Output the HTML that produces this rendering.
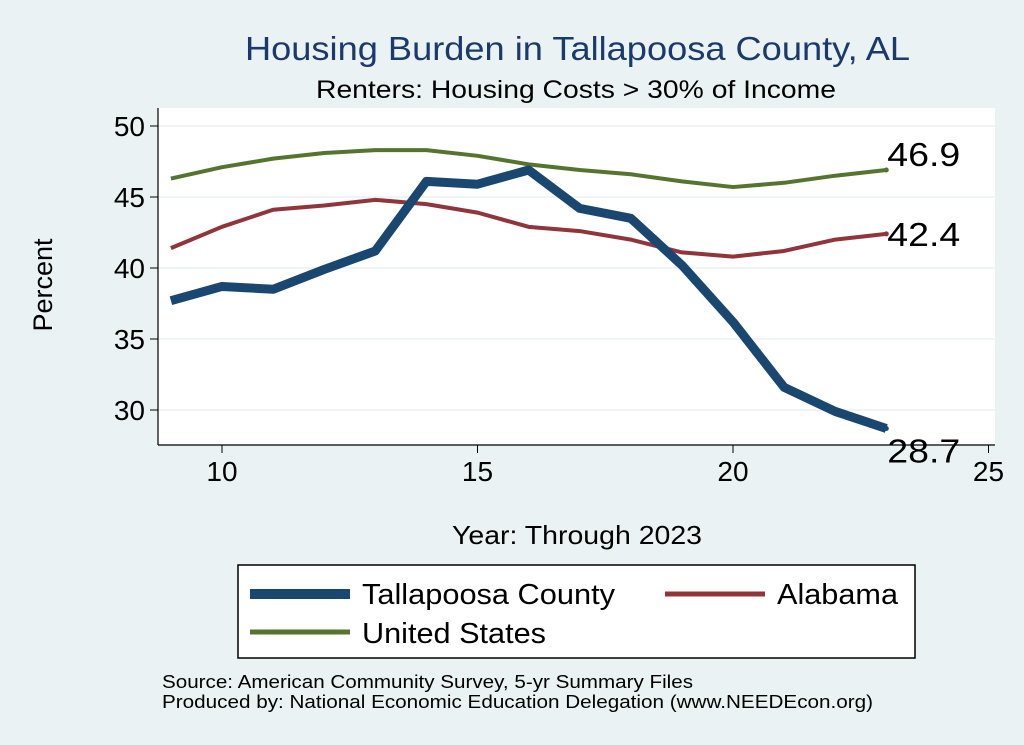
<!DOCTYPE html>
<html><head><meta charset="utf-8"><style>
body{margin:0;background:#eaf2f3;}
svg{display:block;font-family:"Liberation Sans",sans-serif;}
</style></head><body>
<svg id="chart" width="1024" height="745">
<rect width="1024" height="745" fill="#eaf2f3"/>
<rect x="158" y="108" width="837" height="337" fill="#fff"/>
<text x="245" y="60" font-size="33" fill="#1a3a6b" textLength="665" lengthAdjust="spacingAndGlyphs">Housing Burden in Tallapoosa County, AL</text>
<text x="316" y="98" font-size="25" textLength="520" lengthAdjust="spacingAndGlyphs">Renters: Housing Costs &gt; 30% of Income</text>
<g id="grid"></g><g id="axes"></g><g id="series"></g>
<text x="52" y="285" font-size="27" text-anchor="middle" transform="rotate(-90 52 285)">Percent</text>
<text x="452" y="544" font-size="26" textLength="250" lengthAdjust="spacingAndGlyphs">Year: Through 2023</text>
<g>
<rect x="238" y="565" width="677" height="93" fill="#fff" stroke="#000" stroke-width="1.5"/>
<line x1="250" y1="594" x2="350" y2="594" stroke="#1a476f" stroke-width="10"/>
<text x="362" y="604" font-size="29" textLength="253" lengthAdjust="spacingAndGlyphs">Tallapoosa County</text>
<line x1="665" y1="594" x2="765" y2="594" stroke="#90353b" stroke-width="5"/>
<text x="777" y="604" font-size="29" textLength="121" lengthAdjust="spacingAndGlyphs">Alabama</text>
<line x1="250" y1="632" x2="350" y2="632" stroke="#55752f" stroke-width="5"/>
<text x="362" y="643" font-size="29" textLength="184" lengthAdjust="spacingAndGlyphs">United States</text>
</g>
<text x="162" y="688" font-size="18" textLength="531" lengthAdjust="spacingAndGlyphs">Source: American Community Survey, 5-yr Summary Files</text>
<text x="162" y="708" font-size="18" textLength="711" lengthAdjust="spacingAndGlyphs">Produced by: National Economic Education Delegation (www.NEEDEcon.org)</text>
</svg>
<script>
const years=[9,10,11,12,13,14,15,16,17,18,19,20,21,22,23];
const tallapoosa=[37.7,38.7,38.5,39.9,41.2,46.1,45.9,46.9,44.2,43.5,40.2,36.2,31.6,29.9,28.7];
const alabama=[41.4,42.9,44.1,44.4,44.8,44.5,43.9,42.9,42.6,42.0,41.1,40.8,41.2,42.0,42.4];
const unitedStates=[46.3,47.1,47.7,48.1,48.3,48.3,47.9,47.3,46.9,46.6,46.1,45.7,46.0,46.5,46.9];
const xTicks=[10,15,20,25];
const yTicks=[30,35,40,45,50];
const NS="http://www.w3.org/2000/svg";
function X(v){return 222+(v-10)*51.1;}
function Y(v){return 126+(50-v)*14.2;}
function mk(tag,attrs,parent){const e=document.createElementNS(NS,tag);for(const k in attrs)e.setAttribute(k,attrs[k]);parent.appendChild(e);return e;}
const grid=document.getElementById('grid'),axes=document.getElementById('axes'),ser=document.getElementById('series');
mk('line',{x1:158,y1:108,x2:158,y2:445,stroke:'#000','stroke-width':1.2},axes);
mk('line',{x1:158,y1:445,x2:995,y2:445,stroke:'#000','stroke-width':1.2},axes);
yTicks.forEach(t=>{
 const g=mk('line',{x1:158,y1:Y(t),x2:995,y2:Y(t),stroke:'#eaf2f3','stroke-width':1.5},grid);
 
 
 mk('line',{x1:150,y1:Y(t),x2:158,y2:Y(t),stroke:'#000'},axes);
 const tx=mk('text',{x:145,y:Y(t)+10,'font-size':28,'text-anchor':'end'},axes);
 tx.textContent=t;
 
 
});
xTicks.forEach(t=>{
 mk('line',{x1:X(t),y1:445,x2:X(t),y2:453,stroke:'#000'},axes);
 const tx=mk('text',{x:X(t),y:481,'font-size':28,'text-anchor':'middle'},axes);
 tx.textContent=t;
 
 
});
function line(vals,color,w,name,labelDy){
 const p=mk('polyline',{points:years.map((y,i)=>X(y)+','+Y(vals[i])).join(' '),fill:'none',stroke:color,'stroke-width':w,'stroke-linejoin':'round'},ser);
 
 
 const n=vals.length-1;
 mk('circle',{cx:X(years[n]),cy:Y(vals[n]),r:2.5,fill:color},ser);
 const t=mk('text',{x:X(years[n])+1,y:Y(vals[n])+labelDy,'font-size':33,textLength:73,lengthAdjust:'spacingAndGlyphs'},ser);
 t.textContent=vals[n].toFixed(1);
 
 
}
line(unitedStates,'#55752f',4,'united-states',-4);
line(alabama,'#90353b',4,'alabama',12);
line(tallapoosa,'#1a476f',9,'tallapoosa',34);
</script>
</body></html>
